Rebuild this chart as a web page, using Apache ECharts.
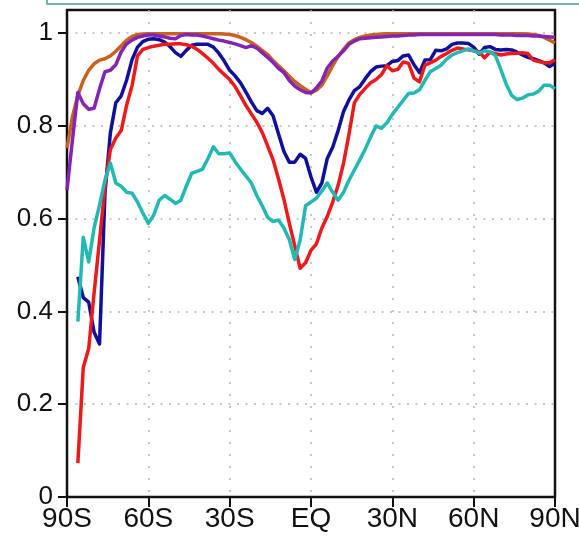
<!DOCTYPE html>
<html>
<head>
<meta charset="utf-8">
<script src="https://cdn.jsdelivr.net/npm/echarts@6/dist/echarts.min.js"></script>
<style>
  html, body { margin: 0; padding: 0; background: #fff; }
  #chart { width: 579px; height: 537px; }
</style>
</head>
<body>
<div id="chart"></div>
<script>
// latitude grid, 2 degree steps from 90S to 90N
const lats = [
  -90, -88, -86, -84, -82, -80, -78, -76, -74, -72,
  -70, -68, -66, -64, -62, -60, -58, -56, -54, -52,
  -50, -48, -46, -44, -42, -40, -38, -36, -34, -32,
  -30, -28, -26, -24, -22, -20, -18, -16, -14, -12,
  -10, -8, -6, -4, -2, 0, 2, 4, 6, 8,
  10, 12, 14, 16, 18, 20, 22, 24, 26, 28,
  30, 32, 34, 36, 38, 40, 42, 44, 46, 48,
  50, 52, 54, 56, 58, 60, 62, 64, 66, 68,
  70, 72, 74, 76, 78, 80, 82, 84, 86, 88,
  90,
];

const orange = [
  0.752, 0.82, 0.866, 0.898, 0.92, 0.934, 0.942, 0.945, 0.951, 0.961,
  0.973, 0.985, 0.993, 0.997, 0.998, 0.999, 0.999, 0.999, 0.999, 0.999,
  0.999, 0.999, 0.999, 0.999, 0.999, 0.999, 0.999, 0.999, 0.999, 0.998,
  0.997, 0.995, 0.991, 0.986, 0.98, 0.972, 0.963, 0.954, 0.941, 0.93,
  0.919, 0.907, 0.896, 0.887, 0.879, 0.872, 0.877, 0.888, 0.908, 0.93,
  0.95, 0.965, 0.979, 0.986, 0.991, 0.994, 0.996, 0.997, 0.998, 0.999,
  0.999, 0.999, 0.999, 0.999, 0.999, 0.999, 0.999, 0.999, 0.999, 0.999,
  0.999, 0.999, 0.999, 0.999, 0.999, 0.999, 0.999, 0.999, 0.999, 0.999,
  0.999, 0.999, 0.999, 0.999, 0.999, 0.998, 0.997, 0.995, 0.991, 0.985,
  0.979,
];

const purple = [
  0.662, 0.77, 0.872, 0.848, 0.836, 0.838, 0.88, 0.917, 0.92, 0.932,
  0.96, 0.977, 0.985, 0.991, 0.994, 0.996, 0.996, 0.994, 0.992, 0.989,
  0.988, 0.995, 0.997, 0.996, 0.996, 0.994, 0.991, 0.988, 0.985, 0.983,
  0.98, 0.977, 0.973, 0.969, 0.973, 0.968, 0.958, 0.948, 0.937, 0.924,
  0.915, 0.898, 0.886, 0.878, 0.872, 0.871, 0.882, 0.897, 0.925, 0.94,
  0.95, 0.962, 0.976, 0.983, 0.988, 0.989, 0.99, 0.991, 0.992, 0.993,
  0.994, 0.994, 0.995, 0.996, 0.996, 0.997, 0.997, 0.997, 0.997, 0.997,
  0.997, 0.997, 0.997, 0.997, 0.997, 0.997, 0.997, 0.997, 0.997, 0.997,
  0.996, 0.996, 0.996, 0.995, 0.995, 0.995, 0.994, 0.994, 0.993, 0.992,
  0.991,
];

const blue = [
  null, null, 0.475, 0.43, 0.42, 0.355, 0.33, 0.655, 0.785, 0.85,
  0.865, 0.899, 0.943, 0.97, 0.982, 0.987, 0.988, 0.986, 0.981, 0.971,
  0.958, 0.95, 0.963, 0.974, 0.976, 0.976, 0.976, 0.97, 0.957, 0.94,
  0.92, 0.908, 0.893, 0.873, 0.852, 0.833, 0.827, 0.838, 0.822, 0.783,
  0.745, 0.722, 0.722, 0.739, 0.73, 0.69, 0.657, 0.677, 0.73, 0.754,
  0.79, 0.831, 0.856, 0.876, 0.885, 0.902, 0.917, 0.927, 0.929, 0.93,
  0.939, 0.941, 0.951, 0.953, 0.932, 0.915, 0.942, 0.943, 0.963, 0.962,
  0.966, 0.976, 0.979, 0.979, 0.978, 0.97, 0.955, 0.969, 0.971, 0.965,
  0.964, 0.965, 0.964, 0.959, 0.953, 0.948, 0.945, 0.941, 0.936, 0.928,
  0.935,
];

const red = [
  null, null, 0.073, 0.279, 0.32, 0.44, 0.553, 0.669, 0.749, 0.774,
  0.79, 0.845, 0.887, 0.951, 0.965, 0.969, 0.972, 0.974, 0.976, 0.976,
  0.977, 0.977, 0.975, 0.972, 0.965, 0.956, 0.946, 0.935, 0.922, 0.911,
  0.9, 0.885, 0.865, 0.844, 0.826, 0.808, 0.786, 0.757, 0.727, 0.686,
  0.642, 0.59, 0.542, 0.493, 0.505, 0.532, 0.546, 0.58, 0.605, 0.636,
  0.672, 0.72, 0.782, 0.85, 0.868, 0.881, 0.893, 0.9, 0.911, 0.93,
  0.919, 0.922, 0.938, 0.935, 0.903, 0.895, 0.931, 0.936, 0.942, 0.95,
  0.956, 0.963, 0.968, 0.966, 0.964, 0.962, 0.96, 0.947, 0.959, 0.956,
  0.953, 0.955, 0.956, 0.957, 0.958, 0.956, 0.942, 0.939, 0.936, 0.936,
  0.943,
];

const cyan = [
  null, null, 0.378, 0.56, 0.507, 0.58, 0.63, 0.683, 0.72, 0.677,
  0.67, 0.657, 0.655, 0.636, 0.612, 0.59, 0.608, 0.64, 0.65, 0.642,
  0.633, 0.64, 0.67, 0.698, 0.702, 0.707, 0.73, 0.755, 0.74, 0.74,
  0.742, 0.723, 0.707, 0.692, 0.677, 0.65, 0.628, 0.603, 0.594, 0.597,
  0.58, 0.555, 0.512, 0.554, 0.628, 0.636, 0.644, 0.66, 0.677, 0.657,
  0.64, 0.657, 0.683, 0.705, 0.727, 0.75, 0.776, 0.8, 0.795, 0.807,
  0.825, 0.84, 0.855, 0.87, 0.871, 0.878, 0.898, 0.917, 0.924, 0.931,
  0.944, 0.953, 0.958, 0.962, 0.966, 0.962, 0.957, 0.962, 0.96, 0.952,
  0.922, 0.89, 0.866, 0.857, 0.86, 0.867, 0.869, 0.875, 0.888, 0.888,
  0.88,
];

// drawing order: first is at the bottom
const SERIES = [
  { name: 'blue',   color: '#10109a', values: blue },
  { name: 'red',    color: '#ec1a1a', values: red },
  { name: 'orange', color: '#c8621e', values: orange },
  { name: 'purple', color: '#8424b4', values: purple },
  { name: 'cyan',   color: '#22b8b4', values: cyan },
];

function latLabel(v) {
  if (v === 0) return 'EQ';
  return v < 0 ? `${-v}S` : `${v}N`;
}

const chart = echarts.init(document.getElementById('chart'), null, { renderer: 'canvas' });

chart.setOption({
  animation: false,
  backgroundColor: '#fff',
  grid: {
    left: 67, right: 24, top: 10, bottom: 40,
    outerBoundsMode: 'none',
    show: true, borderColor: '#111', borderWidth: 2.5,
  },
  graphic: [{
    type: 'rect',
    shape: { x: 47, y: -30, width: 600, height: 34 },
    style: { fill: 'none', stroke: '#4a9c9c', lineWidth: 1.5 },
  }],
  xAxis: {
    type: 'value',
    min: -90, max: 90, interval: 30,
    axisLine: { onZero: false, lineStyle: { color: '#111', width: 2 } },
    axisTick: { length: 10, lineStyle: { color: '#111', width: 2 } },
    axisLabel: {
      formatter: latLabel,
      color: '#111',
      fontFamily: "'Liberation Sans', Arial, sans-serif",
      fontSize: 28,
      margin: 8,
      hideOverlap: false,
    },
    splitLine: {
      show: true, showMinLine: false, showMaxLine: false,
      lineStyle: { color: '#b4b4b4', width: 1.5, type: [2, 10] },
    },
  },
  yAxis: {
    type: 'value',
    min: 0, max: 1.05, interval: 0.2,
    axisLine: { show: true, onZero: false, lineStyle: { color: '#111', width: 2 } },
    axisTick: { show: true, length: 9, lineStyle: { color: '#111', width: 2 } },
    axisLabel: {
      formatter: v => (Math.abs(v * 5 - Math.round(v * 5)) < 1e-6 ? String(+v.toFixed(1)) : ''),
      color: '#111',
      fontFamily: "'Liberation Sans', Arial, sans-serif",
      fontSize: 26,
      margin: 14,
      showMaxLabel: false,
    },
    splitLine: {
      show: true, showMinLine: false, showMaxLine: false,
      lineStyle: { color: '#b4b4b4', width: 1.5, type: [2, 6.5] },
    },
  },
  series: SERIES.map(s => ({
    name: s.name,
    type: 'line',
    data: lats.map((lat, i) => [lat, s.values[i]]),
    showSymbol: false,
    connectNulls: false,
    lineStyle: { color: s.color, width: 3.5, join: 'round' },
    itemStyle: { color: s.color },
  })),
});

window.addEventListener('resize', () => chart.resize());
</script>
</body>
</html>
